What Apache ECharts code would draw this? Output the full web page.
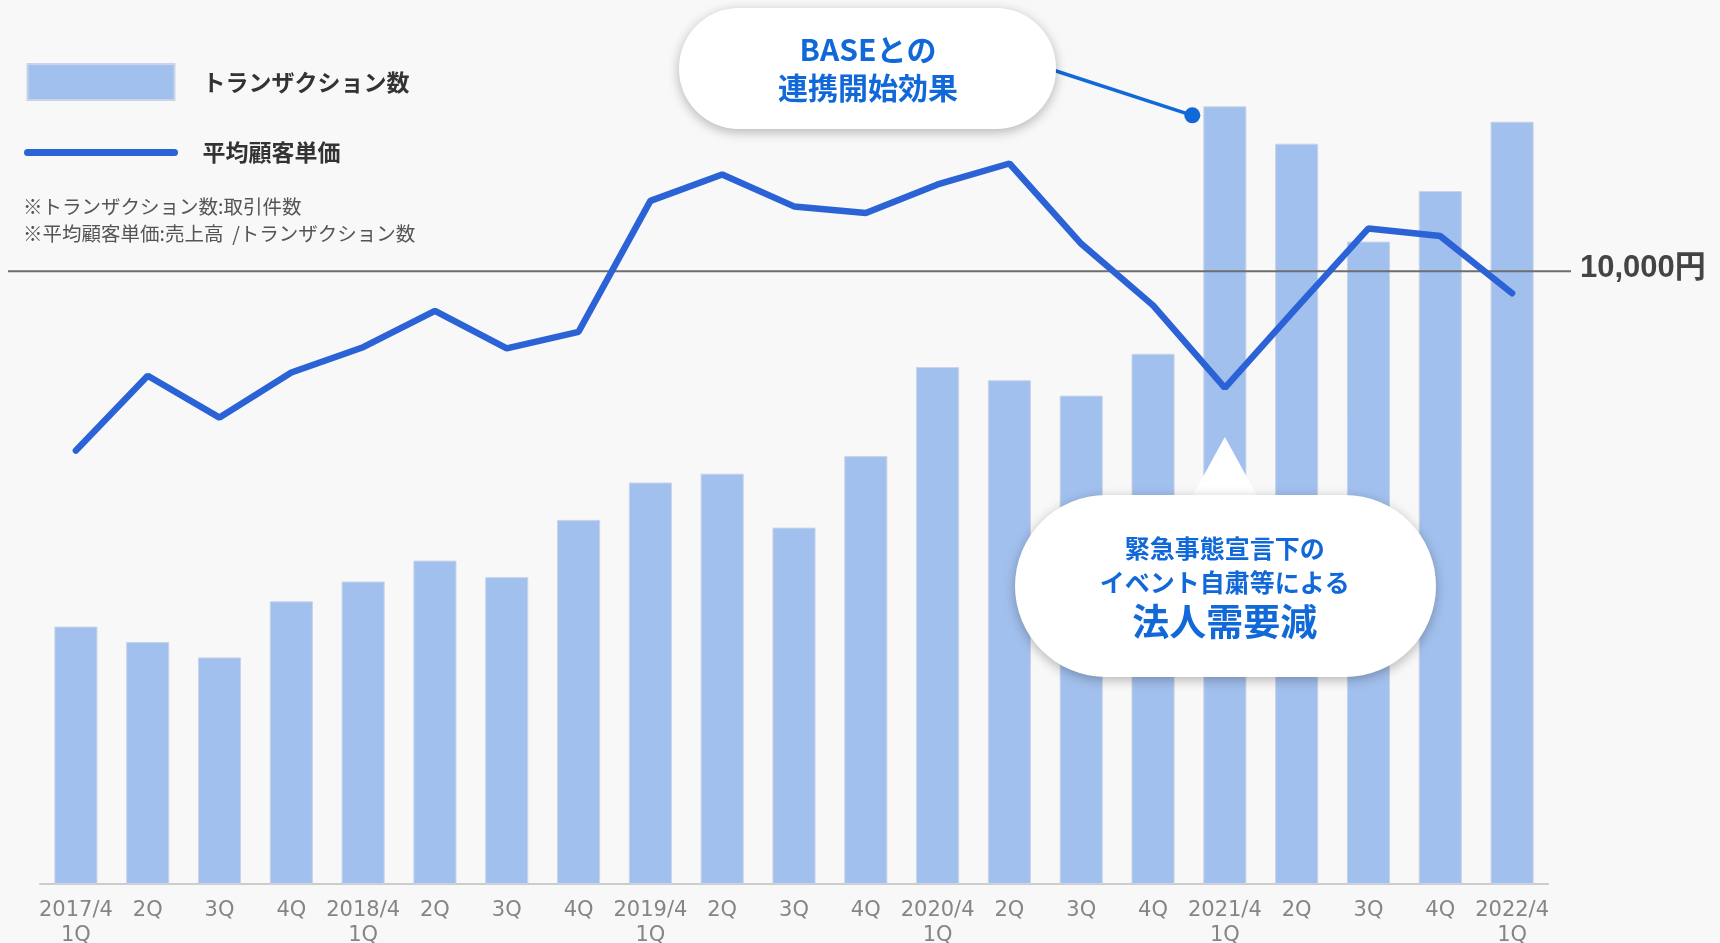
<!DOCTYPE html>
<html>
<head>
<meta charset="utf-8">
<script src="https://cdn.jsdelivr.net/npm/echarts@6/dist/echarts.min.js"></script>
<style>
  html, body { margin: 0; padding: 0; background: #f8f8f8; }
  #chart { width: 1720px; height: 943px; }
</style>
</head>
<body>
<div id="chart"></div>
<script>
// 四半期ラベル（4月決算）
const categories = [
  '2017/4\n1Q', '2Q', '3Q', '4Q',
  '2018/4\n1Q', '2Q', '3Q', '4Q',
  '2019/4\n1Q', '2Q', '3Q', '4Q',
  '2020/4\n1Q', '2Q', '3Q', '4Q',
  '2021/4\n1Q', '2Q', '3Q', '4Q',
  '2022/4\n1Q'
]
// トランザクション数（相対値, 棒の高さから読み取り）
const transactions = [234, 220, 206, 257, 275, 294, 279, 331, 365, 373, 324, 389, 470, 458, 444, 482, 707, 673, 584, 630, 693]
// 平均顧客単価（円）
const avgPrice = [8370, 9050, 8670, 9080, 9310, 9640, 9300, 9450, 10640, 10880, 10590, 10530, 10790, 10980, 10250, 9690, 8940, 9670, 10390, 10320, 9800]
const refPrice = 10000
const refLabel = '10,000円'
const seriesNames = ['トランザクション数', '平均顧客単価']
const notes = ['※トランザクション数:取引件数', '※平均顧客単価:売上高  /トランザクション数']
const calloutBase = ['BASEとの', '連携開始効果']
const calloutCovid = ['緊急事態宣言下の', 'イベント自粛等による', '法人需要減']
const highlightIndex = 16 // 2021/4 1Q

const FONT = "'Noto Sans CJK JP', 'Noto Sans', sans-serif"
const BAR_COLOR = '#a2c0ee'
const LINE_COLOR = '#2b63d6'
const CALLOUT_COLOR = '#1168d9'

const chart = echarts.init(document.getElementById('chart'))

const option = {
  backgroundColor: '#f8f8f8',
  animation: false,
  textStyle: { fontFamily: FONT },
  grid: { left: 40, right: 172, top: 4, bottom: 59, outerBoundsMode: 'none' },
  legend: {
    orient: 'vertical',
    left: 24,
    top: 63,
    padding: 0,
    itemWidth: 147,
    itemHeight: 36,
    itemGap: 37,
    selectedMode: false,
    textStyle: {
      fontFamily: FONT,
      fontSize: 23,
      fontWeight: 'bold',
      color: '#333333',
      padding: [0, 0, 4, 23]
    },
    data: [
      { name: seriesNames[0], icon: 'rect' },
      { name: seriesNames[1], itemStyle: { opacity: 0 }, lineStyle: { width: 7, cap: 'round' } }
    ]
  },
  xAxis: {
    type: 'category',
    data: categories,
    axisTick: { show: false },
    axisLine: { lineStyle: { color: '#cccccc', width: 2 } },
    axisLabel: {
      color: '#858585',
      fontSize: 21,
      lineHeight: 25,
      margin: 14,
      interval: 0,
      fontFamily: "'DejaVu Sans', sans-serif"
    }
  },
  yAxis: [
    { type: 'value', min: 0, max: 800, show: false, splitLine: { show: false } },
    { type: 'value', min: 4430, max: 12430, show: false, splitLine: { show: false } }
  ],
  series: [
    {
      name: seriesNames[0],
      type: 'bar',
      barWidth: '60%',
      z: 2,
      itemStyle: { color: BAR_COLOR, borderColor: '#c9d4e6', borderWidth: 1 },
      data: transactions
    },
    {
      name: seriesNames[1],
      type: 'line',
      yAxisIndex: 1,
      z: 5,
      symbol: 'none',
      lineStyle: { color: LINE_COLOR, width: 6.5, cap: 'round' },
      itemStyle: { color: LINE_COLOR },
      data: avgPrice
    }
  ]
}

chart.setOption(option)

// 注記・吹き出しは軸の座標から配置
const refY = chart.convertToPixel({ yAxisIndex: 1 }, refPrice)
const hx = chart.convertToPixel({ xAxisIndex: 0 }, highlightIndex)
const band = chart.convertToPixel({ xAxisIndex: 0 }, 1) - chart.convertToPixel({ xAxisIndex: 0 }, 0)
const hTop = chart.convertToPixel({ yAxisIndex: 0 }, transactions[highlightIndex])
const dotX = hx - band * 0.3 - 11
const dotY = hTop + 9

const shadow = { shadowBlur: 12, shadowColor: 'rgba(0,0,0,0.28)', shadowOffsetY: 3 }

chart.setOption({
  graphic: [
    // 10,000円 基準線
    {
      type: 'line', z: 3,
      shape: { x1: 8, y1: refY, x2: 1571, y2: refY },
      style: { stroke: '#6e6e6e', lineWidth: 2 }
    },
    {
      type: 'text', z: 3, x: 1580, y: refY - 3,
      style: {
        text: refLabel, fill: '#444444', font: "bold 31px 'Liberation Sans', 'Noto Sans CJK JP', sans-serif",
        verticalAlign: 'middle'
      }
    },
    // 注記
    {
      type: 'text', x: 23, y: 207,
      style: { text: notes[0], fill: '#555555', font: '19.5px ' + FONT, verticalAlign: 'middle' }
    },
    {
      type: 'text', x: 23, y: 234,
      style: { text: notes[1], fill: '#555555', font: '19.5px ' + FONT, verticalAlign: 'middle' }
    },
    // BASEとの連携開始効果
    {
      type: 'line', z: 20,
      shape: { x1: 1050, y1: 69, x2: dotX, y2: dotY },
      style: { stroke: CALLOUT_COLOR, lineWidth: 3.5 }
    },
    {
      type: 'circle', z: 21,
      shape: { cx: dotX, cy: dotY, r: 8 },
      style: { fill: CALLOUT_COLOR }
    },
    {
      type: 'rect', z: 22,
      shape: { x: 679, y: 8, width: 377, height: 121, r: 60 },
      style: Object.assign({ fill: '#ffffff' }, shadow)
    },
    {
      type: 'text', z: 23, x: 868, y: 69,
      style: {
        text: calloutBase.join('\n'), fill: CALLOUT_COLOR, font: 'bold 30px ' + FONT,
        align: 'center', verticalAlign: 'middle', lineHeight: 38
      }
    },
    // 緊急事態宣言下のイベント自粛等による法人需要減
    {
      type: 'polygon', z: 22,
      shape: { points: [[hx, 437], [hx - 33, 497], [hx + 33, 497]] },
      style: { fill: '#ffffff' }
    },
    {
      type: 'rect', z: 22,
      shape: { x: 1015, y: 495, width: 421, height: 182, r: 91 },
      style: Object.assign({ fill: '#ffffff' }, shadow)
    },
    {
      type: 'text', z: 23, x: hx, y: 548,
      style: { text: calloutCovid[0], fill: CALLOUT_COLOR, font: 'bold 25px ' + FONT, align: 'center', verticalAlign: 'middle' }
    },
    {
      type: 'text', z: 23, x: hx, y: 582,
      style: { text: calloutCovid[1], fill: CALLOUT_COLOR, font: 'bold 25px ' + FONT, align: 'center', verticalAlign: 'middle' }
    },
    {
      type: 'text', z: 23, x: hx, y: 622,
      style: { text: calloutCovid[2], fill: CALLOUT_COLOR, font: 'bold 37px ' + FONT, align: 'center', verticalAlign: 'middle' }
    }
  ]
})
</script>
</body>
</html>
